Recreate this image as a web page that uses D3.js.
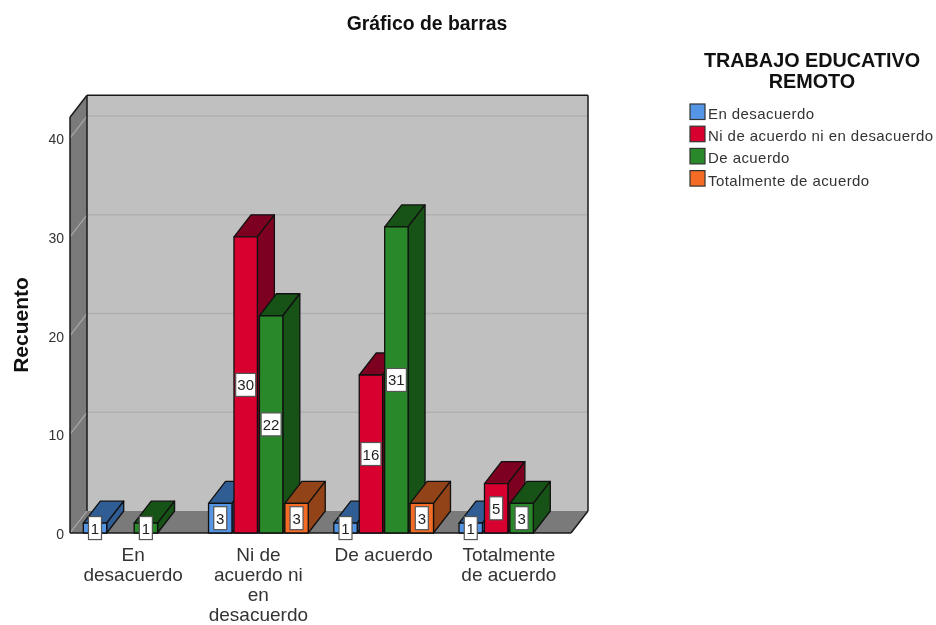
<!DOCTYPE html>
<html><head><meta charset="utf-8">
<script src="https://cdn.jsdelivr.net/npm/d3@7"></script>
<style>html,body{margin:0;background:#fff;overflow:hidden}svg{display:block;font-family:"Liberation Sans",Arial,sans-serif}</style>
</head><body><div id="c"></div>
<script>
const categories = ["En desacuerdo","Ni de acuerdo ni en desacuerdo","De acuerdo","Totalmente de acuerdo"];
const categoryLines = [["En","desacuerdo"],["Ni de","acuerdo ni","en","desacuerdo"],["De acuerdo"],["Totalmente","de acuerdo"]];
const seriesNames = ["En desacuerdo","Ni de acuerdo ni en desacuerdo","De acuerdo","Totalmente de acuerdo"];
const enDesacuerdo = [1,3,1,1];
const niDeAcuerdo = [null,30,16,5];
const deAcuerdo = [1,22,31,3];
const totalmente = [null,3,3,null];
const yTicks = [0,10,20,30,40];
const frontColors = ["#5595e6","#d7002f","#29882a","#f36b25"];
const darkColors = ["#2f5d94","#7e0020","#175217","#934318"];

const W=936,H=625, dx=17, dy=-22;
const mLeft=70,mRight=571,mBottom=533,mTop=117.3;
const svg=d3.select("#c").append("svg").attr("width",W).attr("height",H).style("filter","blur(0.4px)");
const y=d3.scaleLinear().domain([0,42.1]).range([mBottom,mTop]);
const x0=d3.scaleBand().domain(categories).range([mLeft,mRight]);
const x1=d3.scaleBand().domain(seriesNames).range([13.3,113]).paddingInner(0.08);
const allSeries=[enDesacuerdo,niDeAcuerdo,deAcuerdo,totalmente];
const pts=a=>a.map(p=>p.join(",")).join(" ");
const yTop=y.domain()[1];

// walls
svg.append("polygon").attr("points",pts([[mLeft+dx,y(yTop)+dy],[mRight+dx,y(yTop)+dy],[mRight+dx,y(0)+dy],[mLeft+dx,y(0)+dy]])).attr("fill","#c0c0c0");
svg.append("polygon").attr("points",pts([[mLeft,y(yTop)],[mLeft+dx,y(yTop)+dy],[mLeft+dx,y(0)+dy],[mLeft,y(0)]])).attr("fill","#7a7a7a");
svg.append("polygon").attr("points",pts([[mLeft,y(0)],[mLeft+dx,y(0)+dy],[mRight+dx,y(0)+dy],[mRight,y(0)]])).attr("fill","#7a7a7a");
// grid
yTicks.forEach(t=>{
  svg.append("line").attr("x1",mLeft).attr("y1",y(t)).attr("x2",mLeft+dx).attr("y2",y(t)+dy).attr("stroke","#a8a8a8").attr("stroke-width",1.2);
  if(t>0) svg.append("line").attr("x1",mLeft+dx).attr("y1",y(t)+dy).attr("x2",mRight+dx).attr("y2",y(t)+dy).attr("stroke","#b0b0b0").attr("stroke-width",1.4);
});
// wall edges
const edge=(a,b,c,d)=>svg.append("line").attr("x1",a).attr("y1",b).attr("x2",c).attr("y2",d).attr("stroke","#1a1a1a").attr("stroke-width",1.5);
edge(mLeft,y(yTop),mLeft,y(0));
edge(mLeft,y(yTop),mLeft+dx,y(yTop)+dy);
edge(mLeft+dx,y(yTop)+dy,mRight+dx,y(yTop)+dy);
edge(mLeft+dx,y(yTop)+dy,mLeft+dx,y(0)+dy);
edge(mRight+dx,y(yTop)+dy,mRight+dx,y(0)+dy);
edge(mRight+dx,y(0)+dy,mRight,y(0));
edge(mLeft,y(0),mRight,y(0));

// tick labels
svg.selectAll("text.tick").data(yTicks).join("text").attr("class","tick")
  .attr("x",64).attr("y",t=>y(t)+6).attr("text-anchor","end").attr("font-size",14).attr("fill","#333").text(d=>d);

// bars
const w=x1.bandwidth();
const gBars=svg.append("g"), gLabels=svg.append("g");
categories.forEach((c,ci)=>{
  seriesNames.forEach((s,si)=>{
    const v=allSeries[si][ci];
    if(v==null) return;
    const xa=x0(c)+x1(s), xb=xa+w, yt=y(v), yb=y(0);
    const g=gBars.append("g").attr("stroke","#111").attr("stroke-width",1.3).attr("stroke-linejoin","round");
    g.append("polygon").attr("points",pts([[xa,yt],[xa+dx,yt+dy],[xb+dx,yt+dy],[xb,yt]])).attr("fill",darkColors[si]);
    g.append("polygon").attr("points",pts([[xb,yt],[xb+dx,yt+dy],[xb+dx,yb+dy],[xb,yb]])).attr("fill",darkColors[si]);
    g.append("rect").attr("x",xa).attr("y",yt).attr("width",w).attr("height",yb-yt).attr("fill",frontColors[si]);
    const cx=(xa+xb)/2, cy=(yt+yb)/2, bw=String(v).length>1?20:13, bh=23;
    gLabels.append("rect").attr("x",cx-bw/2).attr("y",cy-bh/2).attr("width",bw).attr("height",bh)
      .attr("fill","#fff").attr("stroke","#555").attr("stroke-width",1.2);
    gLabels.append("text").attr("x",cx).attr("y",cy+5.5).attr("text-anchor","middle").attr("font-size",15).attr("fill","#222").text(v);
  });
});

// category labels
categories.forEach((c,i)=>{
  const t=svg.append("text").attr("text-anchor","middle").attr("font-size",19).attr("fill","#333");
  categoryLines[i].forEach((l,j)=>t.append("tspan").attr("x",x0(c)+x0.bandwidth()/2+0.5).attr("y",560.5+j*20.1).text(l));
});

// titles
svg.append("text").attr("x",427).attr("y",30).attr("text-anchor","middle").attr("font-size",19.4).attr("font-weight","bold").attr("fill","#111").text("Gráfico de barras");
svg.append("text").attr("transform","translate(28,325) rotate(-90)").attr("text-anchor","middle").attr("font-size",21).attr("font-weight","bold").attr("fill","#111").text("Recuento");
const lt=svg.append("text").attr("text-anchor","middle").attr("font-size",19.8).attr("font-weight","bold").attr("fill","#111");
lt.append("tspan").attr("x",812).attr("y",66.5).text("TRABAJO EDUCATIVO");
lt.append("tspan").attr("x",812).attr("y",88).text("REMOTO");

// legend
seriesNames.forEach((s,i)=>{
  const yy=104+i*22.2;
  svg.append("rect").attr("x",690).attr("y",yy).attr("width",15).attr("height",15.5).attr("fill",frontColors[i]).attr("stroke","#333").attr("stroke-width",1.2);
  svg.append("text").attr("x",708).attr("y",yy+15).attr("font-size",15).attr("letter-spacing",0.43).attr("fill","#333").text(s);
});
</script></body></html>
